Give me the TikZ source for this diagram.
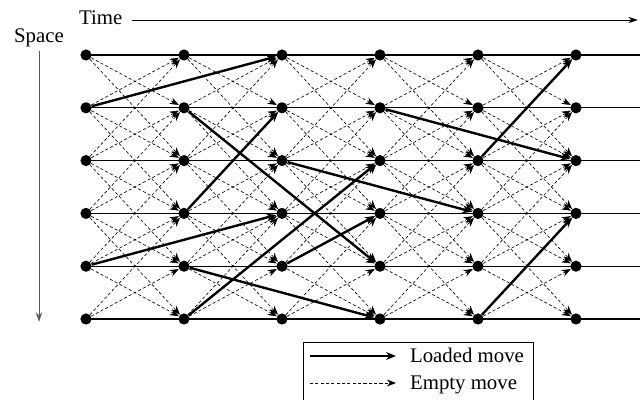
\documentclass[tikz,border=0pt]{standalone}
\usepackage{fontspec}
\setmainfont{Liberation Serif}
\usetikzlibrary{arrows.meta}

\begin{document}
\begin{tikzpicture}[x=0.025cm, y=-0.025cm,
    dot/.style={circle, fill, inner sep=0pt, minimum size=0.28cm},
    lane/.style={line width=0.8pt},
    empty/.style={dash pattern=on 2.2pt off 1.6pt, line width=0.45pt, -{Stealth[length=6.5pt, width=5pt]}},
    loaded/.style={line width=1.7pt, -{Stealth[length=7pt, width=5.5pt]}},
    axis/.style={line width=0.7pt, -{Stealth[length=7pt, width=4.5pt]}},
    lbl/.style={font=\fontsize{14.8}{17}\selectfont, inner sep=2pt}]
    \useasboundingbox (0,0) rectangle (641,400);

    % grid of stations over time
    \foreach \c in {1,...,6}
        \foreach \r in {1,...,6}
            \node[dot] (n-\c-\r) at ({86+98*(\c-1)}, {55+52.8*(\r-1)}) {};

    \foreach \r in {1,...,6} {
        \coordinate (end-\r) at (640, {55+52.8*(\r-1)});
        \draw[lane] (n-1-\r.center) -- (end-\r);
    }

    % empty moves
    \foreach \c in {1,...,5}
        \foreach \r in {1,...,6}
            \foreach \d in {-2,-1,1,2} {
                \pgfmathtruncatemacro{\nc}{\c+1}
                \pgfmathtruncatemacro{\tr}{\r+\d}
                \ifnum\tr>0 \ifnum\tr<7
                    \draw[empty] (n-\c-\r) -- (n-\nc-\tr);
                \fi\fi
            }

    % loaded moves
    \foreach \a/\b in {1-2/3-1, 2-2/4-5, 2-4/3-2, 2-6/4-3, 1-5/3-4, 2-5/4-6,
                       3-5/4-4, 3-3/5-4, 4-2/6-3, 5-3/6-1, 5-6/6-4}
        \draw[loaded] (n-\a) -- (n-\b);

    % axes
    \node[lbl, anchor=base west] (time) at (76,25) {Time};
    \coordinate (time-end) at (638,20);
    \draw[axis, shorten <=5pt] (time.east |- time-end) -- (time-end);

    \node[lbl, anchor=base] (space) at (39,43) {Space};
    \coordinate (space-end) at (39,322);
    \draw[axis, gray!70!black] (space) -- (space-end);

    % legend
    \draw[line width=0.6pt] (303,404) |- (533,342) -- (533,404);
    \coordinate (lg-a1) at (310,356);
    \coordinate (lg-b1) at (396,356);
    \coordinate (lg-a2) at (310,383);
    \coordinate (lg-b2) at (396,383);
    \draw[loaded, line width=1.2pt] (lg-a1) -- (lg-b1);
    \draw[empty, line width=0.6pt] (lg-a2) -- (lg-b2);
    \node[lbl, anchor=base west] (lg-loaded) at (407,363) {Loaded move};
    \node[lbl, anchor=base west] (lg-empty) at (407,390) {Empty move};
\end{tikzpicture}
\end{document}
